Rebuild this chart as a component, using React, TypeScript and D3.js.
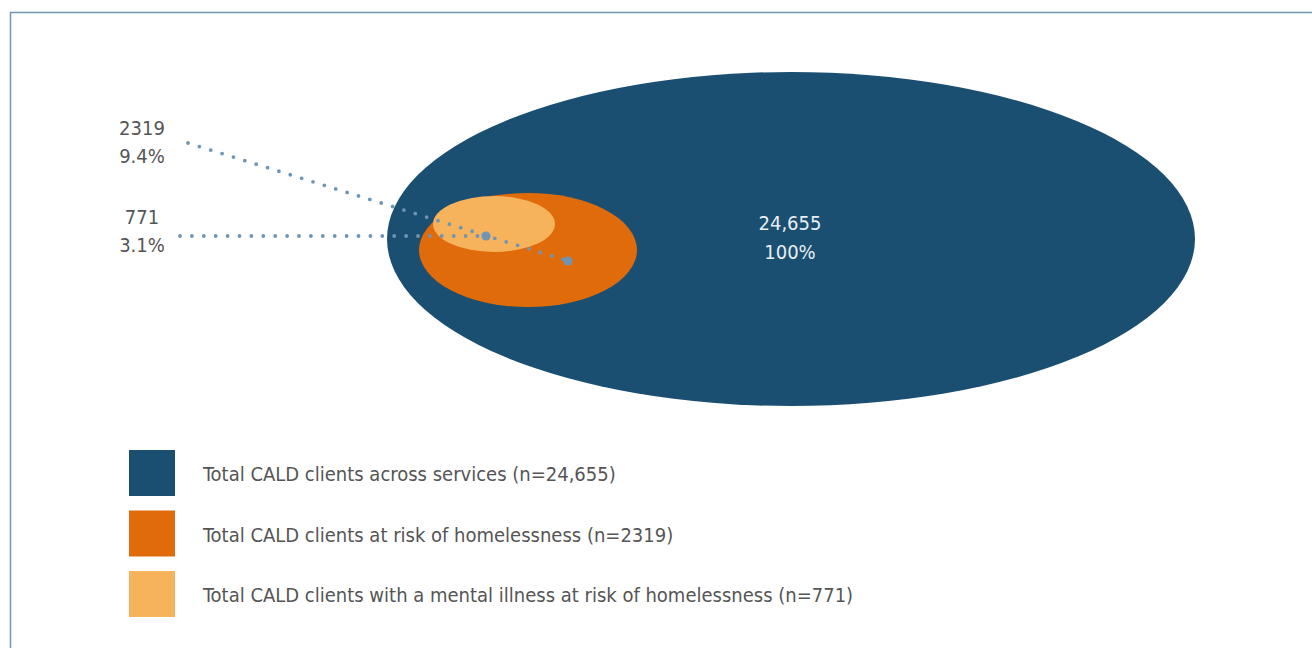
import React from "react";
import * as d3 from "d3";

const categories = [
  "Total CALD clients across services (n=24,655)",
  "Total CALD clients at risk of homelessness (n=2319)",
  "Total CALD clients with a mental illness at risk of homelessness (n=771)",
];
const counts = [24655, 2319, 771];
const percents = ["100%", "9.4%", "3.1%"];
const colors = ["#1a4f72", "#e06b0a", "#f7b25c"];

const W = 1312;
const H = 648;
const FONT = "'DejaVu Sans Condensed', 'Liberation Sans Narrow', 'Open Sans', sans-serif";

// ellipse geometry (layout)
const ellipses = [
  { cx: 791, cy: 239, rx: 404, ry: 167 },
  { cx: 528, cy: 250, rx: 109, ry: 57 },
  { cx: 494, cy: 224, rx: 61, ry: 28 },
];

export default function App() {
  const fmt = d3.format(",");
  const dotColor = "#6f95b5";
  const leaders = [
    { idx: 1, x1: 188, y1: 143, x2: 568, y2: 261, lx: 142, ly: 135 },
    { idx: 2, x1: 180, y1: 236, x2: 486, y2: 236, lx: 142, ly: 224 },
  ];
  const legendY = d3.scalePoint<number>().domain([0, 1, 2]).range([450, 571]);
  return (
    <svg width={W} height={H} style={{ position: "absolute", left: 0, top: 0 }}>
      <rect x={0} y={0} width={W} height={H} fill="#fff" />
      <line x1={10.5} y1={12} x2={10.5} y2={H} stroke="#6f97b3" strokeWidth={1.5} />
      <line x1={10} y1={12.5} x2={W} y2={12.5} stroke="#6f97b3" strokeWidth={1.5} />
      {ellipses.map((e, i) => (
        <ellipse key={i} cx={e.cx} cy={e.cy} rx={e.rx} ry={e.ry} fill={colors[i]} />
      ))}
      <text x={790} y={230} textAnchor="middle" fill="#e8eef3" fontFamily={FONT} fontSize={20}>
        {fmt(counts[0])}
      </text>
      <text x={790} y={259} textAnchor="middle" fill="#e8eef3" fontFamily={FONT} fontSize={20}>
        {percents[0]}
      </text>
      {leaders.map((l) => (
        <g key={l.idx}>
          <line
            x1={l.x1}
            y1={l.y1}
            x2={l.x2}
            y2={l.y2}
            stroke={dotColor}
            strokeWidth={3.8}
            strokeLinecap="round"
            strokeDasharray="0 11.9"
          />
          <circle cx={l.x2} cy={l.y2} r={4.5} fill={dotColor} />
          <text x={l.lx} y={l.ly} textAnchor="middle" fill="#555" fontFamily={FONT} fontSize={20}>
            {counts[l.idx]}
          </text>
          <text x={l.lx} y={l.ly + 28} textAnchor="middle" fill="#555" fontFamily={FONT} fontSize={20}>
            {percents[l.idx]}
          </text>
        </g>
      ))}
      {categories.map((c, i) => (
        <g key={c}>
          <rect x={129} y={legendY(i)} width={46} height={46} fill={colors[i]} />
          <text x={203} y={(legendY(i) as number) + 31} fill="#555" fontFamily={FONT} fontSize={20} textLength={undefined}>
            {c}
          </text>
        </g>
      ))}
    </svg>
  );
}
